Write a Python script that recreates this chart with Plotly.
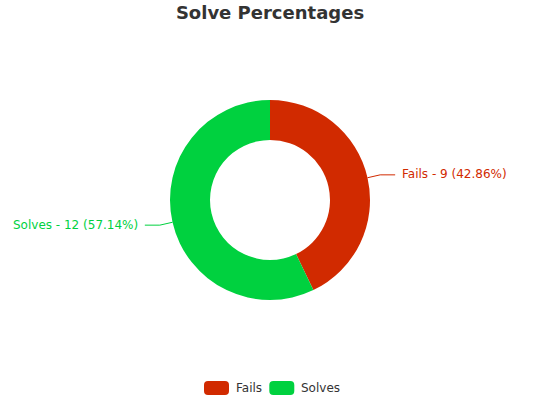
import math
import plotly.graph_objects as go

labels = ["Fails", "Solves"]
counts = [9, 12]
colours = ["#d12a00", "#00d13f"]

W, H = 540, 400
CX, CY, R = 270, 200, 100
FONT = "DejaVu Sans"


def px(x, y):
    # pixel -> paper coords (no margins)
    return x / W, 1 - y / H


total = sum(counts)

dx0, dy0 = px(CX - R, CY + R)
dx1, dy1 = px(CX + R, CY - R)
fig = go.Figure(go.Pie(
    labels=labels, values=counts,
    hole=0.6, sort=False, direction="clockwise", rotation=0,
    marker=dict(colors=colours, line=dict(width=0)),
    textinfo="none", showlegend=False,
    domain=dict(x=[dx0, dx1], y=[dy0, dy1]),
))

# Outside labels with elbow leader lines, placed at each slice's mid angle.
shapes = []
annotations = []
cum = 0
for lab, n, col in zip(labels, counts, colours):
    mid = (cum + n / 2) / total
    cum += n
    ang = math.radians(90 - mid * 360)
    x0, y0 = CX + R * math.cos(ang), CY - R * math.sin(ang)
    x1, y1 = CX + (R + 13) * math.cos(ang), CY - (R + 13) * math.sin(ang)
    right = math.cos(ang) >= 0
    x2 = x1 + 15 if right else x1 - 15
    pts = [px(x0, y0), px(x1, y1), px(x2, y1)]
    path = "M " + " L ".join(f"{a},{b}" for a, b in pts)
    shapes.append(dict(type="path", xref="paper", yref="paper", path=path,
                       line=dict(color=col, width=1)))
    tx, ty = px(x2 + (5 if right else -5), y1 - 0.5)
    annotations.append(dict(
        x=tx, y=ty, xref="paper", yref="paper", showarrow=False,
        text=f"{lab} - {n} ({n / total * 100:.2f}%)",
        xanchor="left" if right else "right", yanchor="middle",
        font=dict(family=FONT, size=12, color=col),
    ))

# Legend with rounded swatches along the bottom.
text_w = {"Fails": 27.3, "Solves": 39}
lx, ly, bw, bh, rr = 204, 381, 25, 14, 4
for lab, col in zip(labels, colours):
    x0, y0, x1, y1 = lx, ly, lx + bw, ly + bh
    corners = [
        (x0 + rr, y0), (x1 - rr, y0), (x1, y0 + rr), (x1, y1 - rr),
        (x1 - rr, y1), (x0 + rr, y1), (x0, y1 - rr), (x0, y0 + rr),
    ]
    p = [px(*c) for c in corners]
    c = [px(x1, y0), px(x1, y1), px(x0, y1), px(x0, y0)]
    path = (f"M {p[0][0]},{p[0][1]} L {p[1][0]},{p[1][1]} "
            f"Q {c[0][0]},{c[0][1]} {p[2][0]},{p[2][1]} L {p[3][0]},{p[3][1]} "
            f"Q {c[1][0]},{c[1][1]} {p[4][0]},{p[4][1]} L {p[5][0]},{p[5][1]} "
            f"Q {c[2][0]},{c[2][1]} {p[6][0]},{p[6][1]} L {p[7][0]},{p[7][1]} "
            f"Q {c[3][0]},{c[3][1]} {p[0][0]},{p[0][1]} Z")
    shapes.append(dict(type="path", xref="paper", yref="paper", path=path,
                       fillcolor=col, line=dict(width=0)))
    tx, ty = px(lx + bw + 5, ly + bh / 2)
    annotations.append(dict(
        x=tx, y=ty, xref="paper", yref="paper", showarrow=False, text=lab,
        xanchor="left", yanchor="middle",
        font=dict(family=FONT, size=12, color="#333333"),
    ))
    lx += bw + 5 + text_w.get(lab, 6 * len(lab)) + 8

fig.update_layout(
    width=W, height=H,
    margin=dict(l=0, r=0, t=0, b=0),
    paper_bgcolor="white", plot_bgcolor="white",
    title=dict(text="<b>Solve Percentages</b>", x=0.5, xanchor="center",
               y=1 - 13 / H, yanchor="middle",
               font=dict(family=FONT, size=18, color="#333333")),
    shapes=shapes, annotations=annotations,
    showlegend=False,
)

# drop the default body margin so the figure sits at the window's corner
fig.write_html("out.html", config={"displayModeBar": False},
               post_script="document.body.style.margin='0';")
